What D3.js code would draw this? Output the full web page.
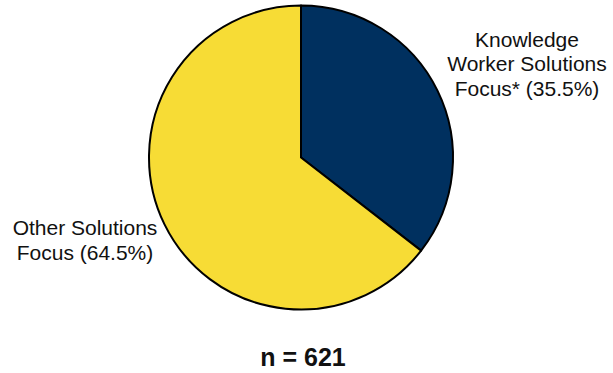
<!DOCTYPE html>
<html>
<head>
<meta charset="utf-8">
<script src="https://cdn.jsdelivr.net/npm/d3@7"></script>
<style>
  body { margin: 0; background: #fff; }
  text { font-family: "Liberation Sans", Arial, sans-serif; fill: #111; }
</style>
</head>
<body>
<div id="chart"></div>
<script>
width = 613;
height = 373;

// data
const categories = ['Knowledge Worker Solutions Focus*', 'Other Solutions Focus'];
const shares = [35.5, 64.5];
const labelLines = [
    ['Knowledge', 'Worker Solutions', 'Focus* (35.5%)'],
    ['Other Solutions', 'Focus (64.5%)']
];
const sampleSize = 621;

const colors = ['#00305f', '#f7dc35'];

const cx = 301, cy = 157.5, radius = 152;

const svg = d3.select('#chart')
    .append('svg')
    .attr('width', width)
    .attr('height', height);

const pieData = d3.pie().sort(null).value(d => d)(shares);
const arc = d3.arc().innerRadius(0).outerRadius(radius);

const g = svg.append('g').attr('transform', `translate(${cx},${cy})`);

g.selectAll('path')
    .data(pieData)
    .join('path')
    .attr('d', arc)
    .attr('fill', (d, i) => colors[i])
    .attr('stroke', '#000')
    .attr('stroke-width', 2)
    .attr('stroke-linejoin', 'round');

//////// labels ////////
const labelPos = [
    {x: 527, y: 46.5},
    {x: 85, y: 235}
];

labelLines.forEach((lines, i) => {
    const t = svg.append('text')
        .attr('text-anchor', 'middle')
        .attr('font-size', 21)
        .attr('x', labelPos[i].x)
        .attr('y', labelPos[i].y);
    t.selectAll('tspan')
        .data(lines)
        .join('tspan')
        .attr('x', labelPos[i].x)
        .attr('dy', (d, j) => j === 0 ? 0 : 24.7)
        .text(d => d);
});

svg.append('text')
    .attr('x', 303)
    .attr('y', 366)
    .attr('text-anchor', 'middle')
    .attr('font-size', 25)
    .attr('font-weight', 'bold')
    .text('n = ' + sampleSize);
</script>
</body>
</html>
